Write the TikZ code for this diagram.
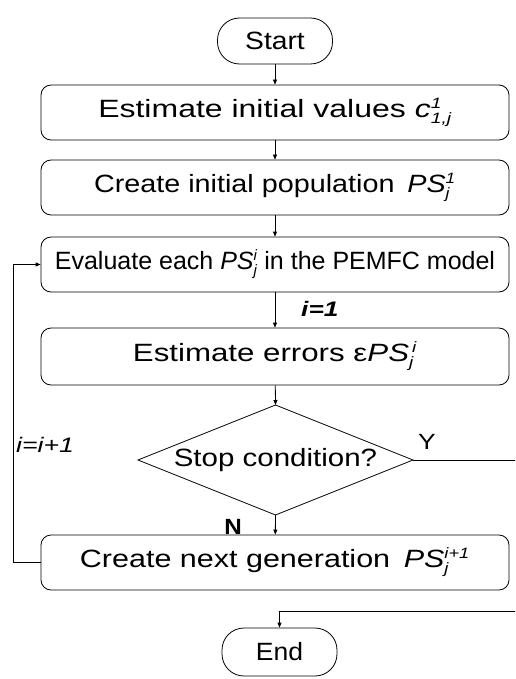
\documentclass[tikz,border=0pt]{standalone}
\usepackage{fontspec}
\usepackage{graphicx}
\setmainfont{Liberation Sans}
\usetikzlibrary{arrows.meta}
\newcommand\sbsp[2]{$^{\mbox{\fontsize{15}{15}\selectfont\itshape #1}}_{\mbox{\fontsize{15}{15}\selectfont\itshape #2}}$}
\newcommand\hs[2]{\scalebox{#1}[1]{#2}}
\begin{document}
\begin{tikzpicture}[x=1pt,y=-1pt,
  every node/.style={font=\fontsize{25}{28}\selectfont},
  term/.style={draw,line width=0.8pt,minimum width=115pt,minimum height=46pt,rounded corners=22pt,inner sep=0pt},
  procbox/.style={draw,line width=0.8pt,minimum width=468pt,minimum height=55pt,rounded corners=10pt,inner sep=0pt},
  lbl/.style={inner sep=0pt,font=\fontsize{22}{24}\selectfont},
  arr/.style={line width=0.8pt,-{Triangle[length=5pt,width=4pt]}},
  ln/.style={line width=0.8pt}]
\useasboundingbox (0,0) rectangle (515,679);
\clip (0,0) rectangle (515,679);
\node[term] (start) at (275,41) {\hs{1.13}{Start}};
\node[procbox] (b1) at (275,112.5) {\hs{1.28}{Estimate initial values \textit{c}\sbsp{1}{1,j}}};
\node[procbox] (b2) at (275,187.5) {\hs{1.15}{Create initial population\, \textit{PS}\sbsp{1}{j}}};
\node[procbox] (b3) at (275,264.5) {\hs{1.0}{Evaluate each \textit{PS}\sbsp{i}{j} in the PEMFC model}};
\node[procbox,minimum height=57pt] (b4) at (275,356.5) {\hs{1.25}{Estimate errors ε\textit{PS}\sbsp{\,i}{j}}};
% decision diamond
\coordinate (dia) at (275.5,460);
\coordinate (dt) at (275.5,405);
\coordinate (dr) at (413,460);
\coordinate (db) at (275.5,515);
\coordinate (dl) at (138,460);
\draw[ln] (dt) -- (dr) -- (db) -- (dl) -- cycle;
\node (dtext) at (dia) {\hs{1.18}{Stop condition?}};
\node[procbox] (b5) at (275,562.5) {\hs{1.22}{Create next generation\, \textit{PS}\sbsp{i+1}{j}}};
\node[term,minimum height=48pt] (end) at (279.5,652) {\hs{1.06}{End}};
\node[lbl,anchor=west,font=\fontsize{21}{24}\selectfont\bfseries\itshape] (l1) at (301,309) {\hs{1.25}{i=1}};
\node[lbl,anchor=west,font=\fontsize{21}{24}\selectfont\itshape] (l2) at (16,445) {\hs{1.27}{i=i+1}};
\node[lbl] (ly) at (427,442) {\hs{1.2}{Y}};
\node[lbl,font=\fontsize{22}{24}\selectfont\bfseries] (lno) at (233,527) {\hs{1.1}{N}};
\coordinate (yr) at (530,460);
\coordinate (ye) at (530,611);
\coordinate (lp) at (13,562.5);
\draw[arr] (start) -- (b1);
\draw[arr] (b1) -- (b2);
\draw[arr] (b2) -- (b3);
\draw[arr] (b3) -- (b4);
\draw[arr] (b4) -- (dt);
\draw[arr] (db) -- (b5);
\draw[arr] (b5.west) -- (lp) |- (b3.west);
\draw[arr] (dr) -- (yr) -- (ye) -| (end.north);
\end{tikzpicture}
\end{document}
